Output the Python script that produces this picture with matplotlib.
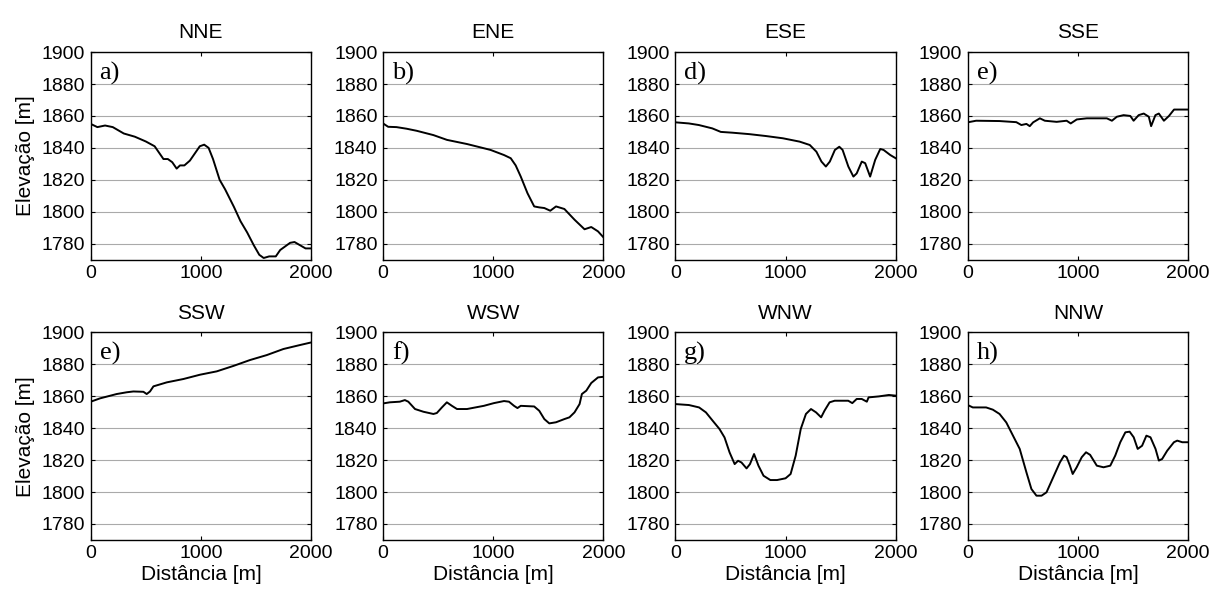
import matplotlib
matplotlib.use("Agg")
import matplotlib.pyplot as plt

plt.rcParams['font.family'] = ['Liberation Sans', 'DejaVu Sans']

titles = ["NNE", "ENE", "ESE", "SSE", "SSW", "WSW", "WNW", "NNW"]
letters = ["a)", "b)", "d)", "e)", "e)", "f)", "g)", "h)"]

# perfis de elevação (distância [m], elevação [m])
nne_x = [0, 60, 130, 200, 250, 300, 400, 500, 580, 620, 660, 700, 740, 780, 810, 850, 900, 950,
         990, 1030, 1070, 1110, 1170, 1220, 1300, 1360, 1420, 1480, 1530, 1570, 1620, 1680, 1720,
         1760, 1810, 1850, 1900, 1950, 2000]
nne_y = [1855, 1853, 1854, 1853, 1851, 1849, 1847, 1844, 1841, 1837, 1833, 1833, 1831, 1827, 1829,
         1829, 1832, 1837, 1841, 1842, 1840, 1833, 1820, 1814, 1803, 1794, 1787, 1779, 1773, 1771,
         1772, 1772, 1776, 1778, 1780.5, 1781, 1779, 1777, 1777]

ene_x = [0, 46, 122, 213, 305, 457, 580, 762, 884, 976, 1098, 1159, 1204, 1250, 1311, 1372, 1418,
         1464, 1518, 1570, 1646, 1738, 1829, 1890, 1951, 2000]
ene_y = [1855.3, 1853.2, 1853, 1852, 1850.7, 1848, 1845, 1842.4, 1840.3, 1838.7, 1835.5, 1833.5,
         1829, 1822, 1811.6, 1803.3, 1802.7, 1802.3, 1800.6, 1803.3, 1801.7, 1795, 1789, 1790.4,
         1787.7, 1784]

ese_x = [0, 122, 213, 335, 412, 518, 671, 823, 976, 1128, 1220, 1280, 1326, 1366, 1402, 1448, 1488,
         1518, 1570, 1616, 1646, 1692, 1723, 1768, 1814, 1860, 1890, 1951, 2000]
ese_y = [1856, 1855.3, 1854.3, 1852.2, 1850, 1849.5, 1848.6, 1847.4, 1846, 1843.9, 1841.8, 1837.6,
         1831.4, 1828.3, 1831.4, 1838.7, 1840.7, 1838.7, 1828.3, 1822, 1824, 1831.4, 1830.4, 1822,
         1832.5, 1839.3, 1838.7, 1835.5, 1833.5]

sse_x = [0, 76, 289, 441, 487, 533, 563, 594, 655, 700, 807, 898, 935, 990, 1081, 1202, 1263, 1309,
         1354, 1415, 1476, 1506, 1552, 1598, 1644, 1665, 1704, 1735, 1781, 1827, 1873, 2000]
sse_y = [1856, 1857, 1856.8, 1856.1, 1854.3, 1855, 1853.6, 1856, 1858.5, 1857, 1856.3, 1857,
         1855.3, 1857.8, 1858.5, 1858.5, 1858.5, 1857, 1859.5, 1860.5, 1860, 1857, 1860.5, 1861.5,
         1859.5, 1853.6, 1860.5, 1861.5, 1857, 1860, 1864, 1864]

ssw_x = [0, 85, 236, 327, 387, 478, 508, 538, 569, 690, 841, 992, 1144, 1295, 1446, 1598, 1749,
         1900, 2000]
ssw_y = [1856.6, 1858.7, 1861.4, 1862.5, 1863, 1862.8, 1861.4, 1863, 1866.2, 1868.7, 1870.8,
         1873.5, 1875.6, 1879, 1882.7, 1885.8, 1889.6, 1892.1, 1893.7]

wsw_x = [0, 61, 152, 198, 229, 290, 366, 457, 488, 534, 579, 625, 671, 762, 823, 915, 1006, 1098,
         1143, 1189, 1220, 1250, 1372, 1418, 1464, 1509, 1570, 1646, 1692, 1738, 1784, 1805, 1845,
         1890, 1951, 2000]
wsw_y = [1855.5, 1856.2, 1856.6, 1857.6, 1856.6, 1852, 1850.3, 1848.9, 1849.5, 1853, 1856.2, 1854,
         1852, 1852, 1852.8, 1854, 1855.7, 1857, 1856.6, 1854, 1852.6, 1854, 1853.6, 1850.9, 1845.7,
         1843, 1843.7, 1845.7, 1846.8, 1849.9, 1855.1, 1861.4, 1863.5, 1868.3, 1871.8, 1872.2]

wnw_x = [0, 123, 215, 277, 338, 400, 446, 492, 538, 569, 600, 646, 677, 714, 754, 800, 862, 923,
         1000, 1046, 1092, 1138, 1185, 1231, 1277, 1323, 1354, 1400, 1446, 1569, 1606, 1646, 1692,
         1738, 1754, 1846, 1938, 2000]
wnw_y = [1855.1, 1854.5, 1853, 1849.9, 1844.7, 1839.5, 1834.2, 1824.8, 1817.5, 1819.6, 1818.5,
         1814.8, 1817.5, 1823.8, 1816.5, 1810.2, 1807.5, 1807.5, 1808.6, 1811.3, 1822.8, 1839.5,
         1848.9, 1852, 1849.9, 1846.8, 1851, 1856.2, 1857.2, 1857.2, 1855.7, 1858.3, 1858.3, 1856.6,
         1859.3, 1859.9, 1860.8, 1860.4]

nnw_x = [0, 46, 167, 228, 289, 350, 411, 472, 533, 578, 624, 670, 715, 776, 837, 874, 898, 928, 953,
         989, 1035, 1074, 1111, 1172, 1233, 1294, 1339, 1385, 1431, 1470, 1507, 1543, 1583, 1622,
         1659, 1705, 1735, 1765, 1811, 1872, 1902, 1948, 2000]
nnw_y = [1854.5, 1853, 1853, 1851.6, 1848.9, 1843.6, 1835.3, 1827, 1812.3, 1801.9, 1797.7, 1797.7,
         1799.8, 1809.2, 1818.6, 1822.8, 1821.8, 1816.5, 1811.3, 1815.5, 1821.8, 1824.9, 1823.3,
         1816.5, 1815.5, 1816.5, 1822.8, 1831.2, 1837.4, 1837.8, 1834.3, 1827, 1829, 1835.3, 1834.3,
         1827, 1819.7, 1820.7, 1825.9, 1831.2, 1832.2, 1831.2, 1831.2]

profiles = [(nne_x, nne_y), (ene_x, ene_y), (ese_x, ese_y), (sse_x, sse_y),
            (ssw_x, ssw_y), (wsw_x, wsw_y), (wnw_x, wnw_y), (nnw_x, nnw_y)]

fig, axes = plt.subplots(2, 4, figsize=(12.23, 5.92), dpi=100)
fig.subplots_adjust(left=0.0742, right=0.9714, top=0.912, bottom=0.088,
                    wspace=0.327, hspace=0.351)

fs = 14
for i, ax in enumerate(axes.flat):
    x, y = profiles[i]
    ax.plot(x, y, color='black', lw=1.4)
    ax.set_xlim(0, 2000)
    ax.set_ylim(1770, 1900)
    ax.set_xticks([0, 1000, 2000])
    ax.set_yticks(range(1780, 1901, 20))
    ax.yaxis.grid(True, color='#aaaaaa', lw=0.8)
    ax.set_axisbelow(True)
    ax.tick_params(direction='in', top=True, right=True, length=3, labelsize=fs, pad=4)
    for s in ax.spines.values():
        s.set_linewidth(1.0)
    ax.set_title(titles[i], fontsize=fs + 1, pad=10)
    ax.text(0.04, 0.955, letters[i], transform=ax.transAxes, va='top', ha='left',
            fontsize=19, family='Liberation Serif')
    if i % 4 == 0:
        ax.set_ylabel("Elevação [m]", fontsize=fs + 1, labelpad=5)
    if i >= 4:
        ax.set_xlabel("Distância [m]", fontsize=fs + 1, labelpad=2)

fig.savefig("out.png", dpi=100)
